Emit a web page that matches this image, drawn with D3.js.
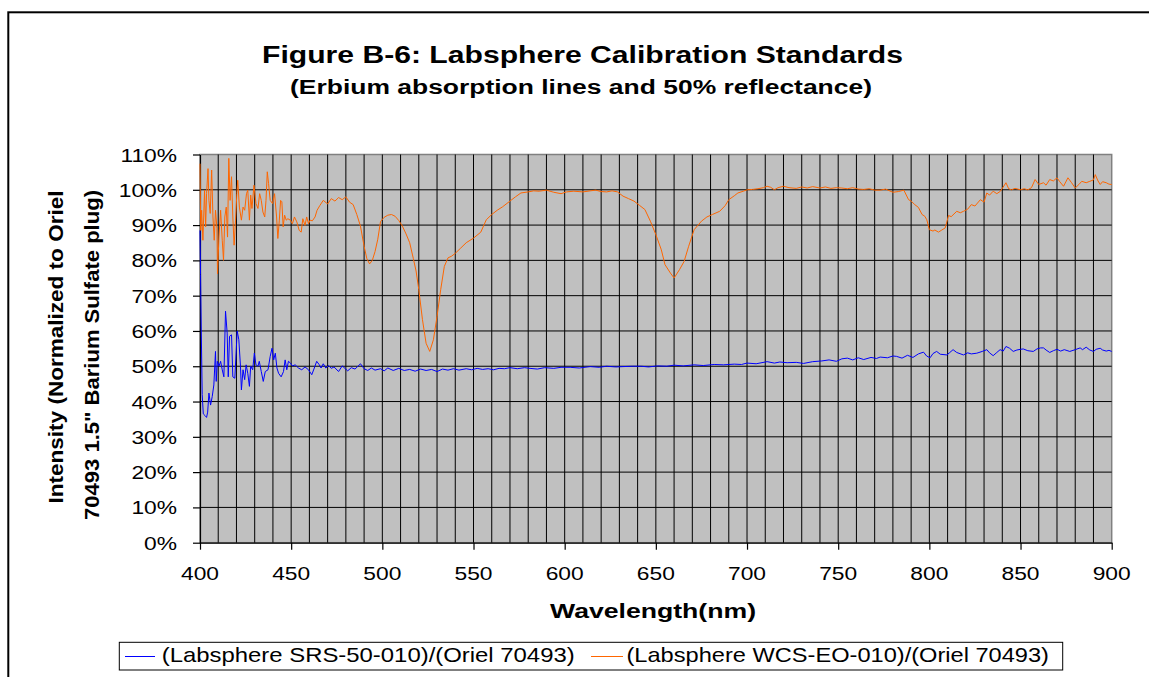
<!DOCTYPE html>
<html>
<head>
<meta charset="utf-8">
<script src="https://cdn.jsdelivr.net/npm/d3@7"></script>
<style>
  body { margin: 0; background: #fff; }
  svg { display: block; font-family: "Liberation Sans", Arial, sans-serif; }
</style>
</head>
<body>
<svg width="1149" height="677"></svg>
<script>
// wavelength (nm) and intensity (%), one pair of arrays per series
var blueNm = [400, 400.3, 400.7, 401.2, 401.8, 402.8, 403.6, 404.2, 404.9, 405.8, 406.7, 407.6, 408.5, 408.9, 409.5,
  410.4, 411.3, 412.2, 413.1, 414, 414.9, 415.5, 416.2, 417.3, 418, 419.1, 420.4, 421.3, 422.2, 422.7, 423.6, 424.5,
  425.3, 426.2, 427.1, 427.8, 428.9, 429.8, 430.7, 431.8, 432.5, 433.6, 434.7, 435.8, 437.3, 438.5, 439.5, 440.4,
  441.3, 442.2, 443.1, 444.5, 445.8, 446.7, 447.6, 448.5, 449.6, 450.7, 452.2, 454, 455.8, 457.6, 459.5, 461.3, 462.7,
  464, 465.3, 466.4, 467.6, 469, 470.5, 472, 473.5, 476, 478, 481, 483, 485, 488, 490, 492, 494, 496, 499, 501, 503,
  506, 509, 512, 515, 518, 521, 524, 527, 530, 533, 536, 539, 542, 546, 549, 552, 555, 558, 561, 564, 567, 570, 574,
  578, 581, 585, 589, 594, 598, 603, 608, 614, 619, 623, 628, 632, 637, 642, 646, 651, 656, 660, 665, 671, 676, 682,
  687, 693, 697, 700, 705, 711, 715, 718, 722, 727, 731, 736, 741, 745, 749, 752, 755, 758, 761, 764, 768, 771, 773,
  777, 780, 782, 785, 788, 791, 794, 796.8, 798.5, 800.4, 802, 804, 806, 809.6, 811, 813, 815, 818.7, 821, 823, 826,
  829, 831.5, 833, 835, 837, 838.8, 840.5, 842, 844, 846, 848, 850, 851.5, 854, 857, 859, 861, 862.6, 864, 866, 868,
  870, 872, 874, 877, 880, 882.7, 884, 886, 888, 890, 891.5, 893.7, 895, 897, 898.5, 900];
var blueVal = [88.5, 76, 60, 42, 36.5, 36, 35.5, 37, 42.4, 39, 41.4, 44.7, 54.2, 45.7, 51.4,
  50, 51.4, 49, 47, 65.6, 59.4, 47, 58.5, 58.9, 47, 46.6, 60, 57.5, 50, 43.3, 49, 46.2,
  50.4, 48, 44.3, 50, 49, 53.7, 50.4, 50, 51.4, 48.5, 45.7, 48.5, 49, 52.8, 55.1, 51.8,
  53.7, 49.5, 48, 47, 48.5, 51.8, 49, 51.4, 50.9, 50.1, 50.4, 49.5, 49, 49.8, 49, 47.6, 49.5,
  51.4, 50.5, 49.5, 50.7, 49.5, 50.2, 49.4, 49.8, 48.5, 50.1, 48.7, 49.6, 49.2, 50.7, 49.3, 48.8, 49.5, 48.9, 49.3, 48.7, 49.5,
  48.8, 49.4, 48.8, 49.1, 48.6, 49.2, 48.8, 49.1, 48.5, 49.2, 48.9, 49.3, 48.9, 49.3, 49, 49.4, 49.1, 49.3, 49, 49.4, 49.3, 49.6, 49.3,
  49.6, 49.4, 49.2, 49.6, 49.4, 49.7, 49.7, 49.5, 49.9, 49.7, 50, 49.8, 49.9, 50, 50, 49.8, 50.1, 50, 50.3, 50.1, 50.4, 50.2, 50.5,
  50.4, 50.6, 50.5, 50.9, 50.7, 51.3, 50.9, 51.2, 51, 51.1, 50.8, 51.3, 51.5, 51.8, 51.4, 52.1, 52.3, 51.8, 52.4, 51.9, 52.5, 52.2, 52.6,
  52.4, 52.9, 52.8, 52.3, 53.1, 52.5, 53.5, 54, 52.9, 52.4, 53.6, 54.2, 53.4, 53.2, 53.8, 54.7, 53.9, 53.2, 53.8, 53.5, 53.7,
  54.2, 54.7, 53.8, 53, 53.9, 54.7, 54.3, 55.6, 55.1, 54.2, 54.6, 54.8, 54.9, 54.4, 54.2, 54.9, 55.2, 55.2, 54.6, 53.9, 54.4,
  54.8, 54.3, 54.7, 54.2, 54.7, 55.2, 54.7, 55.4, 54.6, 54.2, 54.8, 55.1, 54.6, 54.3, 54.5, 54.2];

var orangeNm = [400, 400.4, 400.9, 401.6, 402.5, 403.1, 403.6, 404.4, 404.9, 405.6, 406.4, 407.1, 407.8, 408.5, 409.3,
  409.6, 410.4, 411.3, 412.2, 412.9, 413.6, 414.4, 415.1, 415.8, 416.5, 417.3, 418, 418.7, 419.5, 420.2, 420.7, 421.6,
  422.7, 423.6, 424.5, 425.5, 426.2, 427.1, 427.8, 428.5, 429.6, 430.7, 431.8, 432.7, 433.6, 434.5, 435.5, 436.2, 436.9,
  437.6, 438.5, 439.8, 440.9, 442, 442.7, 443.5, 444.2, 444.9, 445.6, 446.4, 447.3, 448.2, 449.5, 450.7, 451.8, 453.1,
  454.4, 455.5, 456.4, 457.6, 458.5, 459.5, 460.4, 461.6, 463.1, 464.2, 465.8, 467.6, 470, 472, 474, 476, 478, 480, 482,
  484, 486, 488, 490, 491.5, 493, 494.5, 496, 497.5, 499, 501, 503, 505, 507, 509, 511, 513, 515, 517, 518.5, 520, 522,
  524, 526, 528, 530, 532, 534, 536, 538, 540, 543, 546, 550, 554, 557, 560, 563, 566, 570, 573, 576, 580, 583, 586, 590,
  594, 598, 601, 605, 610, 614, 617, 620, 623, 626, 629, 632, 635, 638, 641, 644, 647, 650, 653, 655, 658, 660, 663,
  665.5, 668, 671, 675, 678, 681, 685, 688, 690, 693, 695, 698, 700, 703, 706, 709, 711, 713, 715, 717, 720, 723, 727,
  730, 733, 736, 740, 743, 746, 749, 752, 755, 758, 761, 764, 767, 770, 773, 776, 780, 783, 786, 788.6, 790, 792, 794,
  796, 797.5, 798.6, 800, 802, 803, 805, 806.5, 808.7, 810.5, 812, 815, 817, 818.7, 821, 823, 825, 828, 830, 831.5, 833,
  835, 837, 839, 842, 843.5, 845, 847, 850, 852, 854, 856, 858, 860, 862.6, 864, 866, 868, 870, 871.5, 873.6, 876, 878,
  880, 882, 883.6, 886, 888, 890, 891, 892.5, 893.7, 895, 897, 898.5, 900];
var orangeVal = [107.4, 88.5, 94.2, 85.7, 99.9, 89.5, 98.9, 106, 97, 93.3, 105.6, 92.3, 85.7, 94.2, 89,
  76.2, 86.6, 94.2, 85.7, 80, 92.3, 95.1, 86.6, 108.9, 97, 103.7, 92.3, 84.3, 91.4, 98.9, 102.7, 95.1,
  91.4, 95.1, 94.2, 98.9, 99.9, 91.4, 98.5, 94.7, 101.3, 96.1, 94.7, 98.9, 97, 93.7, 92.3, 97, 105.1,
  101.8, 97, 96.1, 98.9, 92.3, 86.2, 91.4, 97, 96.6, 89.5, 92.8, 91.4, 91.8, 91.4, 90.4, 92.3, 90.9,
  88.5, 88, 91.8, 89.9, 92.3, 90.4, 91.4, 91.2, 92.3, 94.2, 95.6, 97, 96, 97.5, 96.8, 97.8, 97.2, 98, 96.5,
  95.8, 93, 89.7, 84, 80.5, 79, 80, 82.5, 86, 91, 92.2, 92.8, 93, 92.5, 91.3, 89.7, 87.5, 85, 80.5, 77, 71.7, 63.2,
  56.5, 54.2, 57.5, 64.1, 71.7, 78.3, 80.7, 81.2, 82, 83.5, 85, 86.3, 88, 91.5, 93, 94.2, 95.2, 96.8, 98, 99.1, 99.4, 99.7, 99.6, 99.9,
  99.3, 98.9, 99.4, 99.6, 99.4, 99.7, 99.9, 99.5, 99.4, 99.7, 99.4, 98.2, 97.5, 96.8, 95.6, 94.4, 91.1, 87.3, 83, 78.8, 76.4, 75, 77.4,
  79.7, 84, 88.7, 91.1, 92.3, 93, 93.9, 95.5, 97.2, 98.3, 99.1, 99.6, 100, 100.1, 100.3, 100.6, 101, 100.7, 100, 100.6, 101, 100.6, 100.4,
  100.8, 100.5, 100.9, 100.5, 100.8, 100.4, 100.6, 100.5, 100.3, 100.6, 100.2, 100.1, 100.3, 99.9, 99.9, 100.2, 99.3, 99.5, 99.9, 97.2, 96.8, 95.8, 95,
  93, 92.5, 91.5, 88.7, 88.3, 88.6, 88, 88.5, 89.2, 92.7, 92.4, 93.9, 93.5, 93.9, 94.5, 95.8, 95.4, 97.2, 96.5, 99.1, 98.5,
  99.6, 98.9, 99.6, 102, 100.3, 100, 100.4, 100, 100.3, 100, 100.6, 102.9, 101.5, 102, 101.3, 102.9, 102.5, 103.4, 102.3, 101, 103.4, 102,
  100.5, 101.5, 102.4, 102, 102.4, 102.8, 104.3, 102.5, 101.5, 102.3, 102, 101.6, 101.5];

var xTicks = [400, 450, 500, 550, 600, 650, 700, 750, 800, 850, 900];
var yTicks = [0, 10, 20, 30, 40, 50, 60, 70, 80, 90, 100, 110];
var seriesNames = ["(Labsphere SRS-50-010)/(Oriel 70493)", "(Labsphere WCS-EO-010)/(Oriel 70493)"];
var seriesColors = ["#0000ff", "#ff6600"];

var svg = d3.select("svg");

// outer chart frame, only top and left edges fall inside the picture
svg.append("rect")
    .attr("x", 8.3).attr("y", 12.3)
    .attr("width", 1300).attr("height", 900)
    .style("fill", "white")
    .style("stroke", "black")
    .style("stroke-width", 2);

var x = d3.scaleLinear().domain([400, 900]).range([200, 1111.7]);
var y = d3.scaleLinear().domain([0, 110]).range([542.7, 154.5]);

// text in the original is a bit wider than Arial, stretch it
function label(px, py, str, size, anchor, bold, sx) {
  return svg.append("text")
      .attr("transform", "translate(" + px + "," + py + ") scale(" + sx + ",1)")
      .style("font-size", size + "px")
      .style("font-weight", bold ? "bold" : "normal")
      .style("text-anchor", anchor)
      .style("fill", "black")
      .text(str);
}

// plot area
svg.append("rect")
    .attr("x", x(400)).attr("y", y(110))
    .attr("width", x(900) - x(400)).attr("height", y(0) - y(110))
    .style("fill", "#c0c0c0")
    .style("stroke", "#808080")
    .style("stroke-width", 1.5);

svg.append("g").selectAll("line")
    .data(d3.range(410, 900, 10))
    .enter().append("line")
    .attr("x1", function(d) { return x(d); })
    .attr("x2", function(d) { return x(d); })
    .attr("y1", y(0)).attr("y2", y(110))
    .style("stroke", "black")
    .style("stroke-width", 1);

svg.append("g").selectAll("line")
    .data(d3.range(10, 110, 10))
    .enter().append("line")
    .attr("x1", x(400)).attr("x2", x(900))
    .attr("y1", function(d) { return y(d); })
    .attr("y2", function(d) { return y(d); })
    .style("stroke", "black")
    .style("stroke-width", 1);

// axes (lines and ticks only, labels drawn below)
svg.append("g")
    .attr("transform", "translate(0," + y(0) + ")")
    .call(d3.axisBottom(x).tickValues(xTicks).tickSize(7).tickSizeOuter(0).tickFormat(""))
    .call(function(g) { g.selectAll("path, line").style("stroke", "black").style("stroke-width", 1.2); });

svg.append("g")
    .attr("transform", "translate(" + x(400) + ",0)")
    .call(d3.axisLeft(y).tickValues(yTicks).tickSize(7).tickSizeOuter(0).tickFormat(""))
    .call(function(g) { g.selectAll("path, line").style("stroke", "black").style("stroke-width", 1.2); });

xTicks.forEach(function(d) {
  label(x(d), 580, d, 19, "middle", false, 1.2);
});
yTicks.forEach(function(d) {
  label(177, y(d) + 7, d + "%", 19, "end", false, 1.2);
});

// series
var line = d3.line()
    .x(function(d) { return x(d[0]); })
    .y(function(d) { return y(d[1]); });

var series = [d3.zip(blueNm, blueVal), d3.zip(orangeNm, orangeVal)];
svg.append("g").selectAll("path")
    .data(series)
    .enter().append("path")
    .attr("d", line)
    .style("fill", "none")
    .style("stroke", function(d, i) { return seriesColors[i]; })
    .style("stroke-width", 1);

// titles
label(582.5, 63, "Figure B-6: Labsphere Calibration Standards", 23, "middle", true, 1)
    .attr("textLength", 641).attr("lengthAdjust", "spacingAndGlyphs");
label(581, 94, "(Erbium absorption lines and 50% reflectance)", 19.5, "middle", true, 1)
    .attr("textLength", 582).attr("lengthAdjust", "spacingAndGlyphs");
label(653, 618, "Wavelength(nm)", 21, "middle", true, 1)
    .attr("textLength", 206).attr("lengthAdjust", "spacingAndGlyphs");

svg.append("text")
    .attr("transform", "translate(63,347) rotate(-90)")
    .style("font-size", "21px").style("font-weight", "bold").style("text-anchor", "middle")
    .attr("textLength", 313).attr("lengthAdjust", "spacingAndGlyphs")
    .text("Intensity (Normalized to Oriel");
svg.append("text")
    .attr("transform", "translate(99,355) rotate(-90)")
    .style("font-size", "21px").style("font-weight", "bold").style("text-anchor", "middle")
    .attr("textLength", 330).attr("lengthAdjust", "spacingAndGlyphs")
    .text("70493 1.5\" Barium Sulfate plug)");

// legend
svg.append("rect")
    .attr("x", 119.3).attr("y", 642.3)
    .attr("width", 1062.7 - 119.3).attr("height", 670 - 642.3)
    .style("fill", "white")
    .style("stroke", "black")
    .style("stroke-width", 1);

var legendX = [[125, 155, 161.7, 413], [591, 623, 626.5, 422.5]];
legendX.forEach(function(p, i) {
  svg.append("line")
      .attr("x1", p[0]).attr("x2", p[1])
      .attr("y1", 656.5).attr("y2", 656.5)
      .style("stroke", seriesColors[i])
      .style("stroke-width", 1);
  label(p[2], 661.7, seriesNames[i], 21, "start", false, 1)
      .attr("textLength", p[3]).attr("lengthAdjust", "spacingAndGlyphs");
});
</script>
</body>
</html>
